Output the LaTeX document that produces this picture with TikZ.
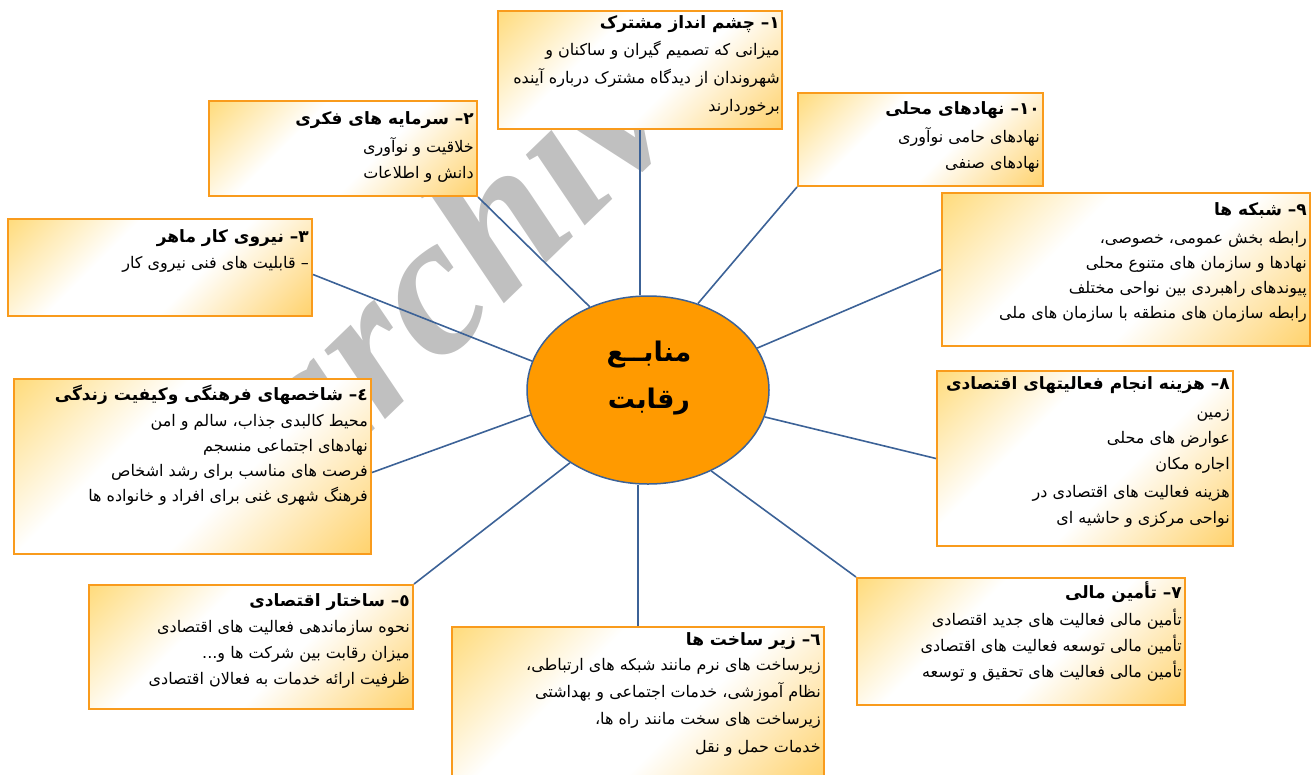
\documentclass[tikz,border=0pt]{standalone}
\usepackage{fontspec}
\setmainfont{DejaVu Sans}
\newfontfamily\arabicfont[Script=Arabic]{DejaVu Sans}
\newfontfamily\wmfont{Liberation Serif}
\TeXXeTstate=1
\usetikzlibrary{shapes.geometric}
\definecolor{gradA}{HTML}{FFC52A}
\definecolor{gradB}{HTML}{FFBA1E}
\definecolor{boxborder}{HTML}{F99B1C}
\definecolor{lineblue}{HTML}{3C6297}
\definecolor{ellorange}{HTML}{FF9A00}
\definecolor{wmgray}{HTML}{C0C0C0}
\pgfdeclarehorizontalshading{boxgrad}{100bp}{color(0bp)=(gradA); color(38bp)=(white); color(58bp)=(white); color(100bp)=(gradB)}
\newcommand{\rl}[1]{\beginR #1\endR}
\newcommand{\ttl}[1]{{\bfseries\fontsize{17}{25}\selectfont\rl{#1}}}
\tikzset{
  box/.style={draw=boxborder, line width=2pt, shading=boxgrad, shading angle=-45, anchor=north west, inner sep=0pt},
  txt/.style={anchor=north east, align=right, inner sep=0pt, font=\arabicfont\fontsize{16}{25}\selectfont},
  link/.style={draw=lineblue, line width=1.6pt},
  wm/.style={text=wmgray, font=\wmfont\bfseries\itshape\fontsize{200}{200}\selectfont, inner sep=0pt}
}
\begin{document}
\begin{tikzpicture}[x=1pt,y=-1pt]
\useasboundingbox (0,0) rectangle (1311,774);
% watermark
\node[wm, rotate=44, anchor=base west] (wm) at (310,492) {archive};
% boxes
\node[box, minimum width=284pt, minimum height=118pt] (b1) at (497,10) {};
\node[box, minimum width=268pt, minimum height=95pt] (b2) at (208,100) {};
\node[box, minimum width=304pt, minimum height=97pt] (b3) at (7,218) {};
\node[box, minimum width=245pt, minimum height=93pt] (b10) at (797,92) {};
\node[box, minimum width=368pt, minimum height=153pt] (b9) at (941,192) {};
\node[box, minimum width=357pt, minimum height=175pt] (b4) at (13,378) {};
\node[box, minimum width=296pt, minimum height=175pt] (b8) at (936,370) {};
\node[box, minimum width=324pt, minimum height=124pt] (b5) at (88,584) {};
\node[box, minimum width=372pt, minimum height=156pt] (b6) at (451,626) {};
\node[box, minimum width=328pt, minimum height=127pt] (b7) at (856,577) {};
% centre
\node[ellipse, draw=lineblue, line width=1.5pt, fill=ellorange, minimum width=242pt, minimum height=188pt, inner sep=0pt] (c) at (648,390) {};
\node[align=center, inner sep=0pt, font=\arabicfont\bfseries\fontsize{27}{47}\selectfont] (ct) at (649,378) {\rl{منابــع}\\\rl{رقابت}};
% connectors
\draw[link] (b1.south) -- (b1.south |- c.north);
\draw[link] (b2.south east) -- (c.125.3);
\draw[link] ([yshift=-7pt]b3.east) -- (c.166.8);
\draw[link] ([yshift=-6pt]b4.east) -- (c.192);
\draw[link] (b5.north east) -- (c.223.1);
\draw[link] (b6.north) -- (b6.north |- c.south);
\draw[link] (b7.north west) -- (c.308.5);
\draw[link] (b8.west) -- (c.347.5);
\draw[link] (b9.west) -- (c.21.5);
\draw[link] (b10.south west) -- (c.60);
% texts
\node[txt] (t1) at ([xshift=-3pt,yshift=-5pt]b1.north east) {\ttl{۱– چشم انداز مشترک}\\[2pt]\rl{میزانی که تصمیم گیران و ساکنان و}\\[3pt]\rl{شهروندان از  دیدگاه مشترک درباره آینده}\\[3pt]\rl{برخوردارند}};
\node[txt] (t2) at ([xshift=-4pt,yshift=-11pt]b2.north east) {\ttl{۲– سرمایه های فکری}\\[3pt]\rl{خلاقیت و نوآوری}\\[1pt]\rl{دانش و اطلاعات}};
\node[txt] (t3) at ([xshift=-4pt,yshift=-11pt]b3.north east) {\ttl{۳– نیروی کار ماهر}\\[1pt]\rl{– قابلیت های فنی نیروی کار}};
\node[txt] (t10) at ([xshift=-4pt,yshift=-9pt]b10.north east) {\ttl{۱۰– نهادهای محلی}\\[3pt]\rl{نهادهای حامی نوآوری}\\[1pt]\rl{نهادهای صنفی}};
\node[txt] (t9) at ([xshift=-4pt,yshift=-10pt]b9.north east) {\ttl{۹– شبکه ها}\\[3pt]\rl{رابطه بخش عمومی، خصوصی،}\\\rl{نهادها و سازمان های متنوع محلی}\\\rl{پیوندهای راهبردی بین نواحی مختلف}\\\rl{رابطه سازمان های منطقه با سازمان های ملی}};
\node[txt] (t4) at ([xshift=-4pt,yshift=-7pt]b4.north east) {\ttl{٤– شاخصهای فرهنگی وکیفیت زندگی}\\[1pt]\rl{محیط کالبدی جذاب، سالم و امن}\\\rl{نهادهای اجتماعی منسجم}\\\rl{فرصت های مناسب برای رشد اشخاص}\\\rl{فرهنگ شهری غنی برای افراد و خانواده ها}};
\node[txt] (t8) at ([xshift=-4pt,yshift=-6pt]b8.north east) {\ttl{۸– هزینه انجام فعالیتهای اقتصادی}\\[3pt]\rl{زمین}\\[1pt]\rl{عوارض های محلی}\\[1pt]\rl{اجاره مکان}\\[3pt]\rl{هزینه فعالیت های اقتصادی در}\\[1pt]\rl{نواحی مرکزی و حاشیه ای}};
\node[txt] (t5) at ([xshift=-4pt,yshift=-9pt]b5.north east) {\ttl{٥– ساختار اقتصادی}\\[1pt]\rl{نحوه سازماندهی فعالیت های اقتصادی}\\[1pt]\rl{میزان رقابت بین شرکت ها و...}\\[1pt]\rl{ظرفیت ارائه خدمات به فعالان اقتصادی}};
\node[txt] (t7) at ([xshift=-4pt,yshift=-4pt]b7.north east) {\ttl{۷– تأمین مالی}\\[2pt]\rl{تأمین مالی فعالیت های جدید اقتصادی}\\[1pt]\rl{تأمین مالی توسعه فعالیت های اقتصادی}\\[1pt]\rl{تأمین مالی فعالیت های تحقیق و توسعه}};
\node[txt] (t6) at ([xshift=-4pt,yshift=-6pt]b6.north east) {\ttl{٦– زیر ساخت ها}\\[0pt]\rl{زیرساخت های نرم مانند شبکه های ارتباطی،}\\[2pt]\rl{نظام آموزشی، خدمات اجتماعی و بهداشتی}\\[2pt]\rl{زیرساخت های سخت مانند راه ها،}\\[3pt]\rl{خدمات حمل و نقل}};
\end{tikzpicture}
\end{document}
